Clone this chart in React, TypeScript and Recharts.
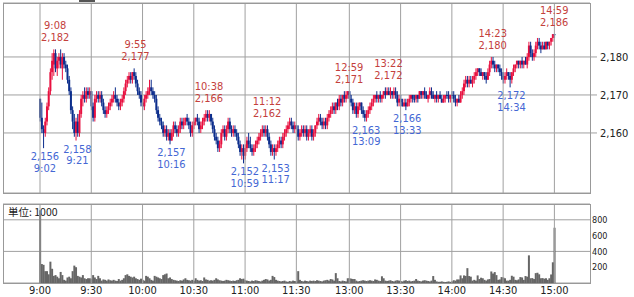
import React from 'react';
import {
  ComposedChart,
  Bar,
  XAxis,
  YAxis,
  CartesianGrid,
  ReferenceLine,
  ReferenceDot,
} from 'recharts';

// trading sessions, one candle per minute
const SESSIONS: [string, string][] = [
  ['9:00', '11:30'],
  ['12:30', '15:00'],
];

const TICK_LABELS = ['9:00', '9:30', '10:00', '10:30', '11:00', '11:30', '13:00', '13:30', '14:00', '14:30', '15:00'];
const PRICE_TICKS = [2160, 2170, 2180];
const VOLUME_TICKS = [200, 400, 600, 800];

const OPENS = [
  2169, 2164, 2161, 2160, 2163, 2167, 2171, 2176, 2178, 2181, 2177, 2179, 2180, 2177, 2180, 2178, 2177, 2174, 2171, 2166,
  2163, 2160, 2163, 2160, 2165, 2169, 2170, 2169, 2171, 2170, 2171, 2167, 2164, 2169, 2170, 2169, 2170, 2168, 2166, 2165,
  2166, 2167, 2168, 2169, 2170, 2169, 2168, 2167, 2168, 2169, 2171, 2173, 2174, 2175, 2174, 2176, 2175, 2173, 2171, 2170,
  2168, 2167, 2169, 2170, 2171, 2172, 2171, 2170, 2169, 2166, 2164, 2163, 2162, 2160, 2161, 2159, 2160, 2158, 2160, 2162,
  2161, 2160, 2161, 2163, 2162, 2163, 2164, 2163, 2162, 2160, 2162, 2163, 2164, 2163, 2161, 2162, 2163, 2164, 2165, 2164,
  2165, 2163, 2161, 2159, 2158, 2156, 2157, 2160, 2161, 2159, 2161, 2163, 2161, 2160, 2161, 2160, 2159, 2157, 2155, 2156,
  2154, 2156, 2158, 2157, 2156, 2155, 2156, 2157, 2158, 2159, 2160, 2161, 2160, 2161, 2159, 2157, 2155, 2156, 2155, 2156,
  2157, 2158, 2157, 2159, 2160, 2161, 2162, 2163, 2162, 2161, 2162, 2161, 2159, 2160, 2161, 2160, 2161, 2159, 2160, 2161,
  2159, 2160, 2162, 2163, 2164, 2163, 2162, 2163, 2162, 2164, 2165, 2166, 2167, 2166, 2168, 2167, 2169, 2168, 2170, 2169,
  2170, 2171, 2169, 2168, 2166, 2167, 2165, 2167, 2168, 2166, 2165, 2164, 2165, 2166, 2167, 2168, 2169, 2170, 2169, 2170,
  2169, 2170, 2171, 2170, 2171, 2170, 2171, 2170, 2171, 2170, 2168, 2169, 2168, 2167, 2168, 2167, 2168, 2169, 2170, 2169,
  2169, 2170, 2169, 2171, 2170, 2171, 2170, 2169, 2170, 2171, 2170, 2169, 2170, 2169, 2170, 2169, 2168, 2169, 2170, 2170,
  2169, 2170, 2170, 2169, 2168, 2169, 2168, 2170, 2171, 2173, 2174, 2173, 2174, 2173, 2174, 2175, 2176, 2177, 2176, 2175,
  2176, 2175, 2174, 2176, 2178, 2179, 2178, 2177, 2178, 2177, 2176, 2175, 2174, 2175, 2176, 2175, 2174, 2176, 2177, 2178,
  2179, 2178, 2179, 2178, 2179, 2178, 2180, 2183, 2181, 2180, 2181, 2183, 2184, 2183, 2182, 2183, 2182, 2184, 2183, 2184,
  2185, 2186,
];

const HIGHS = [
  2169, 2168, 2162, 2164, 2168, 2172, 2177, 2181, 2182, 2182, 2180, 2181, 2182, 2181, 2181, 2179, 2178, 2175, 2172, 2167,
  2165, 2164, 2165, 2166, 2170, 2171, 2172, 2172, 2172, 2172, 2171, 2168, 2170, 2171, 2171, 2171, 2171, 2169, 2167, 2167,
  2168, 2169, 2170, 2171, 2172, 2170, 2169, 2169, 2170, 2172, 2174, 2175, 2176, 2176, 2176, 2177, 2176, 2174, 2172, 2171,
  2169, 2170, 2171, 2172, 2174, 2174, 2172, 2171, 2170, 2167, 2165, 2164, 2163, 2162, 2162, 2161, 2161, 2161, 2163, 2163,
  2162, 2162, 2164, 2164, 2164, 2164, 2165, 2164, 2163, 2163, 2164, 2164, 2165, 2164, 2163, 2164, 2165, 2166, 2166, 2166,
  2165, 2164, 2162, 2160, 2159, 2158, 2161, 2162, 2162, 2162, 2164, 2164, 2162, 2162, 2162, 2161, 2160, 2158, 2157, 2157,
  2157, 2159, 2160, 2159, 2157, 2157, 2158, 2159, 2160, 2161, 2162, 2162, 2162, 2162, 2160, 2158, 2157, 2157, 2157, 2158,
  2159, 2159, 2160, 2161, 2162, 2163, 2164, 2164, 2163, 2163, 2162, 2162, 2161, 2162, 2162, 2162, 2162, 2161, 2162, 2162,
  2161, 2162, 2164, 2165, 2165, 2164, 2164, 2164, 2165, 2166, 2167, 2168, 2168, 2168, 2169, 2170, 2170, 2170, 2171, 2171,
  2171, 2171, 2170, 2169, 2168, 2168, 2168, 2168, 2168, 2167, 2166, 2166, 2167, 2168, 2169, 2170, 2170, 2171, 2170, 2171,
  2170, 2171, 2172, 2172, 2172, 2172, 2171, 2172, 2172, 2171, 2170, 2170, 2169, 2169, 2169, 2169, 2170, 2170, 2170, 2170,
  2170, 2170, 2171, 2171, 2171, 2172, 2171, 2170, 2172, 2172, 2171, 2170, 2171, 2170, 2171, 2170, 2170, 2170, 2171, 2171,
  2170, 2171, 2171, 2170, 2169, 2170, 2171, 2172, 2174, 2175, 2175, 2175, 2175, 2175, 2176, 2177, 2177, 2177, 2177, 2176,
  2176, 2176, 2177, 2179, 2180, 2180, 2179, 2178, 2178, 2178, 2177, 2176, 2176, 2177, 2176, 2176, 2176, 2178, 2178, 2179,
  2179, 2179, 2180, 2179, 2180, 2181, 2184, 2184, 2182, 2182, 2184, 2185, 2185, 2184, 2184, 2184, 2184, 2184, 2184, 2185,
  2186, 2186,
];

const LOWS = [
  2163, 2160, 2156, 2159, 2162, 2166, 2170, 2174, 2175, 2176, 2175, 2177, 2177, 2174, 2177, 2176, 2173, 2170, 2165, 2161,
  2159, 2158, 2159, 2159, 2164, 2167, 2168, 2168, 2169, 2169, 2166, 2163, 2163, 2168, 2168, 2168, 2167, 2165, 2164, 2164,
  2165, 2166, 2167, 2168, 2168, 2167, 2166, 2166, 2167, 2168, 2170, 2172, 2173, 2173, 2173, 2174, 2172, 2170, 2169, 2167,
  2166, 2166, 2168, 2169, 2170, 2170, 2169, 2168, 2165, 2163, 2162, 2161, 2159, 2159, 2158, 2158, 2157, 2158, 2159, 2160,
  2159, 2159, 2160, 2161, 2161, 2162, 2162, 2161, 2159, 2159, 2161, 2162, 2162, 2160, 2160, 2161, 2162, 2163, 2163, 2163,
  2162, 2160, 2158, 2157, 2155, 2155, 2156, 2159, 2158, 2158, 2160, 2160, 2159, 2159, 2159, 2158, 2156, 2154, 2153, 2152,
  2153, 2155, 2156, 2155, 2154, 2154, 2155, 2156, 2157, 2158, 2159, 2159, 2159, 2158, 2156, 2154, 2154, 2153, 2154, 2155,
  2156, 2156, 2156, 2158, 2159, 2160, 2161, 2161, 2160, 2160, 2161, 2158, 2158, 2159, 2159, 2159, 2158, 2158, 2159, 2158,
  2158, 2159, 2161, 2162, 2162, 2161, 2161, 2161, 2161, 2163, 2164, 2165, 2165, 2165, 2166, 2166, 2167, 2167, 2168, 2168,
  2169, 2168, 2167, 2165, 2165, 2164, 2164, 2166, 2165, 2164, 2163, 2163, 2164, 2165, 2166, 2167, 2168, 2168, 2168, 2168,
  2168, 2169, 2169, 2170, 2170, 2169, 2169, 2169, 2169, 2167, 2167, 2167, 2167, 2167, 2166, 2167, 2167, 2168, 2168, 2168,
  2168, 2168, 2169, 2169, 2169, 2169, 2169, 2168, 2169, 2169, 2169, 2168, 2168, 2168, 2169, 2168, 2168, 2168, 2169, 2168,
  2168, 2169, 2168, 2167, 2167, 2168, 2168, 2169, 2170, 2172, 2172, 2172, 2173, 2172, 2173, 2174, 2175, 2175, 2175, 2174,
  2174, 2173, 2174, 2175, 2177, 2177, 2176, 2176, 2176, 2175, 2174, 2173, 2173, 2174, 2174, 2172, 2173, 2175, 2176, 2177,
  2177, 2177, 2177, 2177, 2178, 2177, 2179, 2180, 2179, 2179, 2180, 2182, 2182, 2181, 2182, 2182, 2182, 2182, 2182, 2183,
  2184, 2185,
];

const CLOSES = [
  2164, 2161, 2160, 2163, 2167, 2171, 2176, 2179, 2181, 2177, 2179, 2180, 2178, 2180, 2178, 2177, 2174, 2171, 2166, 2163,
  2160, 2163, 2160, 2165, 2169, 2170, 2169, 2171, 2170, 2171, 2167, 2164, 2169, 2170, 2169, 2170, 2168, 2166, 2165, 2166,
  2167, 2168, 2169, 2170, 2169, 2168, 2167, 2168, 2169, 2171, 2173, 2174, 2175, 2174, 2176, 2175, 2173, 2171, 2170, 2168,
  2167, 2169, 2170, 2171, 2172, 2171, 2170, 2169, 2166, 2164, 2163, 2162, 2160, 2161, 2159, 2160, 2158, 2160, 2162, 2161,
  2160, 2161, 2163, 2162, 2163, 2164, 2163, 2162, 2160, 2162, 2163, 2164, 2163, 2161, 2162, 2163, 2164, 2165, 2164, 2165,
  2163, 2161, 2159, 2158, 2156, 2157, 2160, 2161, 2159, 2161, 2163, 2161, 2160, 2161, 2160, 2159, 2157, 2155, 2156, 2154,
  2156, 2158, 2157, 2156, 2155, 2156, 2157, 2158, 2159, 2160, 2161, 2160, 2161, 2159, 2157, 2155, 2156, 2155, 2156, 2157,
  2158, 2157, 2159, 2160, 2161, 2162, 2163, 2162, 2161, 2162, 2161, 2159, 2160, 2161, 2160, 2161, 2159, 2160, 2161, 2159,
  2160, 2162, 2163, 2164, 2163, 2162, 2163, 2162, 2164, 2165, 2166, 2167, 2166, 2168, 2167, 2169, 2168, 2170, 2169, 2170,
  2171, 2169, 2168, 2166, 2167, 2165, 2167, 2168, 2166, 2165, 2164, 2165, 2166, 2167, 2168, 2169, 2170, 2169, 2170, 2169,
  2170, 2171, 2170, 2171, 2170, 2171, 2170, 2171, 2170, 2168, 2169, 2168, 2167, 2168, 2167, 2168, 2169, 2170, 2169, 2169,
  2170, 2169, 2171, 2170, 2171, 2170, 2169, 2170, 2171, 2170, 2169, 2170, 2169, 2170, 2169, 2168, 2169, 2170, 2170, 2169,
  2170, 2170, 2169, 2168, 2169, 2168, 2170, 2171, 2173, 2174, 2173, 2174, 2173, 2174, 2175, 2176, 2177, 2176, 2175, 2176,
  2175, 2174, 2176, 2178, 2179, 2178, 2177, 2178, 2177, 2176, 2175, 2174, 2175, 2176, 2175, 2174, 2176, 2177, 2178, 2179,
  2178, 2179, 2178, 2179, 2178, 2180, 2183, 2181, 2180, 2181, 2183, 2184, 2183, 2182, 2183, 2182, 2184, 2183, 2184, 2185,
  2186, 2186,
];

// volume in thousands of shares
const VOLUMES = [
  920, 240, 230, 150, 150, 110, 270, 180, 90, 100, 80, 60, 140, 100, 40, 30, 70, 80, 60, 150,
  220, 200, 90, 80, 70, 100, 60, 50, 60, 60, 55, 100, 70, 50, 90, 60, 30, 45, 40, 30,
  45, 35, 30, 40, 30, 25, 50, 30, 40, 60, 100, 110, 90, 80, 70, 80, 60, 50, 40, 55,
  40, 30, 90, 80, 60, 40, 30, 90, 80, 70, 60, 50, 100, 110, 120, 60, 70, 50, 40, 35,
  30, 25, 35, 30, 45, 60, 40, 35, 30, 40, 30, 60, 40, 30, 35, 25, 70, 45, 40, 30,
  35, 30, 40, 60, 45, 35, 30, 25, 30, 40, 35, 30, 25, 30, 25, 35, 40, 60, 50, 55,
  35, 30, 25, 20, 30, 25, 35, 30, 25, 20, 30, 40, 50, 45, 30, 40, 90, 75, 40, 30,
  25, 20, 25, 30, 20, 15, 25, 20, 30, 25, 20, 150, 40, 25, 20, 30, 25, 20, 30, 25,
  30, 25, 35, 30, 25, 20, 30, 35, 40, 30, 50, 45, 30, 125, 60, 25, 20, 30, 25, 20,
  60, 60, 55, 50, 50, 30, 20, 25, 30, 35, 30, 25, 30, 35, 30, 25, 45, 40, 30, 25,
  85, 60, 30, 25, 30, 35, 25, 20, 30, 35, 30, 25, 20, 30, 35, 25, 30, 20, 25, 30,
  50, 30, 25, 20, 30, 35, 30, 25, 20, 30, 88, 40, 20, 15, 15, 20, 15, 12, 15, 20,
  15, 20, 35, 30, 45, 45, 96, 60, 96, 90, 188, 88, 80, 30, 40, 30, 96, 50, 67, 60,
  40, 30, 45, 50, 146, 120, 138, 100, 40, 45, 75, 70, 60, 30, 30, 40, 92, 80, 40, 35,
  45, 75, 70, 40, 88, 80, 350, 60, 62, 50, 125, 130, 110, 60, 62, 55, 60, 40, 60, 108,
  262, 700,
];

const HIGH_MARKS: [string, number][] = [
  ['9:08', 2182], ['9:55', 2177], ['10:38', 2166], ['11:12', 2162],
  ['12:59', 2171], ['13:22', 2172], ['14:23', 2180], ['14:59', 2186],
];
const LOW_MARKS: [string, number][] = [
  ['9:02', 2156], ['9:21', 2158], ['10:16', 2157], ['10:59', 2152],
  ['11:17', 2153], ['13:09', 2163], ['13:33', 2166], ['14:34', 2172],
];

const UP = '#e8103f';
const DOWN = '#0c2d8c';
const HIGH_TEXT = '#c4403c';
const LOW_TEXT = '#4467d4';
const GRID = '#a0a0a0';
const FONT = "'DejaVu Sans Condensed', 'DejaVu Sans', sans-serif";

const toMin = (s: string) => {
  const [h, m] = s.split(':').map(Number);
  return h * 60 + m;
};
const toLabel = (m: number) => `${Math.floor(m / 60)}:${String(m % 60).padStart(2, '0')}`;

const TIMES: string[] = SESSIONS.flatMap(([a, b]) => {
  const out: string[] = [];
  for (let m = toMin(a); m <= toMin(b); m++) out.push(toLabel(m));
  return out;
});

const rows = TIMES.map((t, i) => ({
  t,
  open: OPENS[i],
  high: HIGHS[i],
  low: LOWS[i],
  close: CLOSES[i],
  range: [LOWS[i], HIGHS[i]],
  vol: VOLUMES[i],
}));

const fmt = (v: number) => v.toLocaleString('en-US');

// x padding so that 9:00 sits at x=40 and 15:00 at x=554 inside a 3..590 frame
const X_PAD = { left: 36.15, right: 34.74 };

function Candle(props: any) {
  const { x, y, width, height } = props;
  const d = props.payload ?? props;
  const top = Math.min(y, y + height);
  const h = Math.abs(height);
  const k = d.high === d.low ? 0 : h / (d.high - d.low);
  const up = d.close > d.open;
  const color = up ? UP : DOWN;
  const cx = x + width / 2;
  const bTop = top + (d.high - Math.max(d.open, d.close)) * k;
  const bBot = top + (d.high - Math.min(d.open, d.close)) * k;
  return (
    <g>
      <line x1={cx} x2={cx} y1={top} y2={top + h} stroke={color} strokeWidth={1} />
      <rect x={cx - 1} y={bTop} width={2} height={Math.max(bBot - bTop, 1)} fill={color} />
    </g>
  );
}

function Frame({ top, height }: { top: number; height: number }) {
  return (
    <div
      style={{
        position: 'absolute',
        left: 3,
        top,
        width: 588,
        height,
        border: '1px solid #999',
        boxSizing: 'border-box',
        pointerEvents: 'none',
      }}
    />
  );
}

export default function App() {
  return (
    <div style={{ position: 'absolute', left: 0, top: 0, width: 634, height: 297, background: '#fff', fontFamily: FONT }}>
      <div style={{ position: 'absolute', left: 79, top: 0, width: 16, height: 2, background: '#555' }} />
      <div
        style={{
          position: 'absolute',
          left: 8,
          top: 206,
          fontSize: 10.5,
          lineHeight: '12px',
          color: '#222',
          fontFamily: "'Noto Sans CJK JP', 'DejaVu Sans', sans-serif",
        }}
      >
        単位: 1000
      </div>

      <div style={{ position: 'absolute', left: 0, top: 0 }}>
        <ComposedChart width={634} height={195} data={rows} margin={{ top: 3, right: 0, bottom: 2, left: 3 }} barCategoryGap={0}>
          <CartesianGrid vertical={false} stroke={GRID} />
          <XAxis dataKey="t" hide padding={X_PAD} />
          <YAxis
            orientation="right"
            width={44}
            domain={[2144.2, 2194.2]}
            ticks={PRICE_TICKS}
            allowDataOverflow
            axisLine={false}
            tickLine={{ stroke: GRID }}
            tickSize={7}
            tickMargin={3}
            tickFormatter={fmt}
            tick={{ fontSize: 11, fill: '#222', fontFamily: FONT }}
          />
          {TICK_LABELS.map((t) => (
            <ReferenceLine key={t} x={t} stroke={GRID} />
          ))}
          <Bar dataKey="range" shape={<Candle />} isAnimationActive={false} />
          {HIGH_MARKS.map(([t, p]) => (
            <ReferenceDot
              key={'h' + t}
              x={t}
              y={p}
              r={0}
              shape={(s: any) => (
                <g fontFamily={FONT} fontSize={11} fill={HIGH_TEXT} textAnchor="middle">
                  <text x={s.cx + 1.5} y={s.cy - 20}>{t}</text>
                  <text x={s.cx + 1.5} y={s.cy - 8}>{fmt(p)}</text>
                </g>
              )}
            />
          ))}
          {LOW_MARKS.map(([t, p]) => (
            <ReferenceDot
              key={'l' + t}
              x={t}
              y={p}
              r={0}
              shape={(s: any) => (
                <g fontFamily={FONT} fontSize={11} fill={LOW_TEXT} textAnchor="middle">
                  <text x={s.cx + 1.5} y={s.cy + 12}>{fmt(p)}</text>
                  <text x={s.cx + 1.5} y={s.cy + 23.5}>{t}</text>
                </g>
              )}
            />
          ))}
        </ComposedChart>
      </div>

      <div style={{ position: 'absolute', left: 0, top: 195 }}>
        <ComposedChart width={634} height={102} data={rows} margin={{ top: 9, right: 0, bottom: 0, left: 3 }} barCategoryGap={0}>
          <CartesianGrid vertical={false} stroke={GRID} />
          <XAxis
            dataKey="t"
            height={14}
            padding={X_PAD}
            ticks={TICK_LABELS}
            interval={0}
            axisLine={false}
            tickLine={false}
            tickSize={0}
            tickMargin={3}
            tick={{ fontSize: 11, fill: '#222', fontFamily: FONT }}
          />
          <YAxis
            orientation="right"
            width={44}
            domain={[0, 1000]}
            ticks={VOLUME_TICKS}
            allowDataOverflow
            axisLine={false}
            tickLine={false}
            tickSize={0}
            tickMargin={2}
            tick={{ fontSize: 9, fill: '#222', fontFamily: FONT }}
          />
          {TICK_LABELS.map((t) => (
            <ReferenceLine key={t} x={t} stroke={GRID} />
          ))}
          <Bar dataKey="vol" fill="#666" isAnimationActive={false} />
        </ComposedChart>
      </div>

      <Frame top={3} height={191} />
      <Frame top={204} height={80} />
    </div>
  );
}
